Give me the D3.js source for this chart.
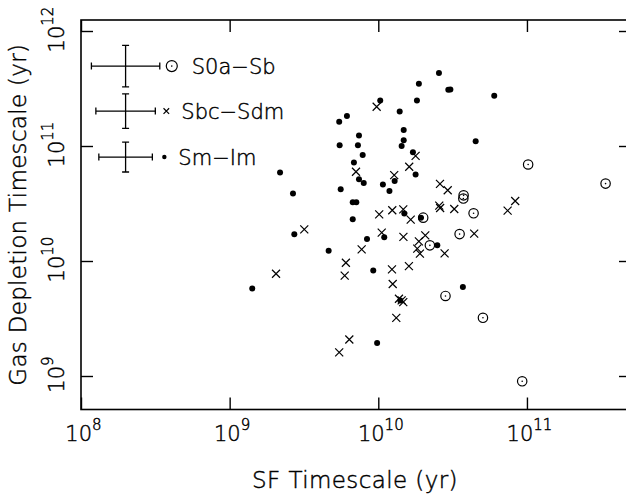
<!DOCTYPE html>
<html>
<head>
<meta charset="utf-8">
<script src="https://cdn.jsdelivr.net/npm/d3@7"></script>
<style>
  html, body { margin: 0; padding: 0; background: #fff; }
  svg { display: block; }
  text { font-family: "DejaVu Sans", "Liberation Sans", sans-serif; font-weight: 200; fill: #000;
         stroke: #000; stroke-width: 0.45px; }
</style>
</head>
<body>
<svg id="chart" width="626" height="497"></svg>
<script>
// ---- Data (log10 of years) ----
// S0a-Sb (circled dot)
const earlySF  = [11.008, 11.529, 10.574, 10.572, 10.641, 10.302, 10.547, 10.347, 10.452, 10.704, 10.968];
const earlyGas = [10.839, 10.673, 10.571, 10.543, 10.415, 10.377, 10.234, 10.136, 9.696, 9.506, 8.954];

// Sbc-Sdm (cross)
const midSF  = [9.989, 10.251, 10.208, 9.850, 10.107, 10.415, 10.467, 10.921, 10.870, 10.410,
                10.416, 10.511, 10.094, 10.168, 10.006, 10.218, 9.502, 10.023, 10.169, 10.316,
                10.273, 10.262, 10.280, 10.446, 10.645, 9.888, 9.782, 9.774, 10.092, 10.206,
                9.312, 10.097, 10.139, 10.157, 10.168, 10.121, 9.805, 9.737];
const midGas = [11.341, 10.914, 10.820, 10.776, 10.747, 10.671, 10.615, 10.522, 10.438, 10.482,
                10.461, 10.452, 10.441, 10.449, 10.406, 10.360, 10.275, 10.247, 10.210, 10.223,
                10.171, 10.107, 10.064, 10.066, 10.238, 10.101, 9.985, 9.873, 9.927, 9.956,
                9.889, 9.800, 9.672, 9.657, 9.642, 9.506, 9.317, 9.206];

// Sm-Im (filled dot)
const lateSF  = [10.408, 10.273, 10.471, 10.485, 10.780, 10.013, 10.260, 9.789, 9.737, 10.144,
                 10.171, 9.870, 10.171, 10.157, 9.740, 9.863, 10.655, 9.895, 10.233, 9.836,
                 10.251, 9.870, 9.902, 10.110, 10.031, 10.075, 9.747, 9.339, 9.426, 9.828,
                 9.852, 9.828, 10.175, 10.287, 9.435, 10.040, 9.924, 10.397, 9.666, 9.966,
                 9.152, 10.569, 10.148, 9.992];
const lateGas = [11.634, 11.541, 11.490, 11.492, 11.436, 11.396, 11.396, 11.260, 11.210, 11.301,
                 11.140, 11.091, 11.051, 11.001, 11.007, 11.007, 11.042, 10.922, 10.946, 10.856,
                 10.752, 10.711, 10.679, 10.696, 10.665, 10.608, 10.624, 10.769, 10.586, 10.510,
                 10.510, 10.362, 10.412, 10.377, 10.232, 10.206, 10.191, 10.136, 10.090, 9.918,
                 9.761, 9.773, 9.657, 9.288];

// Legend: classes and typical error bars (dex)
const legendLabels = ["S0a\u2212Sb", "Sbc\u2212Sdm", "Sm\u2212Im"];
const legendSymbols = ["circle", "cross", "dot"];
const errSF  = [0.23, 0.20, 0.18];
const errGas = [0.18, 0.15, 0.13];

// Ticks
const xTickExp = [8, 9, 10, 11];
const yTickExp = [9, 10, 11, 12];
const xTitle = "SF Timescale (yr)";
const yTitle = "Gas Depletion Timescale (yr)";

// ---- Chart ----
const svg = d3.select("#chart");
const L = 81, R = 631, T = 20, B = 409.5;
const pw = v => Math.pow(10, v);

const x = d3.scaleLog().domain([pw(8), pw(11.7)]).range([L, R]);
const y = d3.scaleLog().domain([pw(8.7087), pw(12.0957)]).range([B, T]);

const g = svg.append("g");

// frame
g.append("rect")
  .attr("x", L).attr("y", T).attr("width", R - L).attr("height", B - T)
  .attr("fill", "none").attr("stroke", "#000").attr("stroke-width", 1.6);

const tickLen = 12;
function styleAxis(sel) {
  sel.select(".domain").remove();
  sel.selectAll(".tick line").attr("stroke", "#000").attr("stroke-width", 1.4);
}

// bottom axis
const xAxis = g.append("g").attr("transform", `translate(0,${B})`)
  .call(d3.axisBottom(x).tickValues(xTickExp.map(pw)).tickSize(-tickLen).tickFormat(""));
styleAxis(xAxis);
xAxis.selectAll(".tick").each(function(d) {
  const e = Math.round(Math.log10(d));
  const t = d3.select(this).select("text");
  t.text(null).attr("y", 31).attr("dy", null).attr("x", 2)
   .attr("text-anchor", "middle").attr("font-size", 21).attr("fill", "#000");
  t.append("tspan").text("10");
  t.append("tspan").attr("font-size", 15).attr("dy", -11).text(e);
});
// top axis
const xTop = g.append("g").attr("transform", `translate(0,${T})`)
  .call(d3.axisTop(x).tickValues(xTickExp.map(pw)).tickSize(-tickLen).tickFormat(""));
styleAxis(xTop);
xTop.selectAll("text").remove();

// left axis
const yAxis = g.append("g").attr("transform", `translate(${L},0)`)
  .call(d3.axisLeft(y).tickValues(yTickExp.map(pw)).tickSize(-tickLen).tickFormat(""));
styleAxis(yAxis);
yAxis.selectAll(".tick").each(function(d) {
  const e = Math.round(Math.log10(d));
  const t = d3.select(this).select("text");
  t.text(null).attr("x", 2).attr("y", -17).attr("dy", null)
   .attr("transform", "rotate(-90)")
   .attr("text-anchor", "middle").attr("font-size", 21).attr("fill", "#000");
  t.append("tspan").text("10");
  t.append("tspan").attr("font-size", 15).attr("dy", -11).text(e);
});
// right axis
const yRight = g.append("g").attr("transform", `translate(${R},0)`)
  .call(d3.axisRight(y).tickValues(yTickExp.map(pw)).tickSize(-tickLen).tickFormat(""));
styleAxis(yRight);
yRight.selectAll("text").remove();

// titles
svg.append("text")
  .attr("x", (L + R) / 2 - 1).attr("y", 488)
  .attr("text-anchor", "middle").attr("font-size", 23)
  .attr("letter-spacing", 0.4)
  .text(xTitle);
svg.append("text")
  .attr("transform", `translate(26,${(T + B) / 2}) rotate(-90)`)
  .attr("text-anchor", "middle").attr("font-size", 23)
  .attr("letter-spacing", 0.3)
  .text(yTitle);

// markers
const plot = g.append("g");
function drawDot(sel, cx, cy, r) {
  sel.append("circle").attr("cx", cx).attr("cy", cy).attr("r", r).attr("fill", "#000");
}
function drawCross(sel, cx, cy, h) {
  sel.append("path")
    .attr("d", `M${cx - h},${cy - h}L${cx + h},${cy + h}M${cx - h},${cy + h}L${cx + h},${cy - h}`)
    .attr("stroke", "#000").attr("stroke-width", 1.2).attr("fill", "none");
}
function drawCircled(sel, cx, cy, r) {
  sel.append("circle").attr("cx", cx).attr("cy", cy).attr("r", r)
    .attr("fill", "none").attr("stroke", "#000").attr("stroke-width", 1.2);
  sel.append("circle").attr("cx", cx).attr("cy", cy).attr("r", 0.8).attr("fill", "#000");
}

lateSF.forEach((v, i) => drawDot(plot, x(pw(v)), y(pw(lateGas[i])), 3));
midSF.forEach((v, i) => drawCross(plot, x(pw(v)), y(pw(midGas[i])), 4));
earlySF.forEach((v, i) => drawCircled(plot, x(pw(v)), y(pw(earlyGas[i])), 4.7));

// legend with representative error bars
const legCenterX = 8.30;
const legCenterY = [11.695, 11.304, 10.904];
const leg = g.append("g");
const cap = 3.5;
legendLabels.forEach((lab, i) => {
  const cx = x(pw(legCenterX)), cy = y(pw(legCenterY[i]));
  const x0 = x(pw(legCenterX - errSF[i])), x1 = x(pw(legCenterX + errSF[i]));
  const y0 = y(pw(legCenterY[i] - errGas[i])), y1 = y(pw(legCenterY[i] + errGas[i]));
  const path = `M${x0},${cy}H${x1}M${x0},${cy - cap}V${cy + cap}M${x1},${cy - cap}V${cy + cap}` +
               `M${cx},${y0}V${y1}M${cx - cap},${y0}H${cx + cap}M${cx - cap},${y1}H${cx + cap}`;
  leg.append("path").attr("d", path).attr("stroke", "#000").attr("stroke-width", 1.3).attr("fill", "none");
  const mx = x1 + 12;
  if (legendSymbols[i] === "circle") drawCircled(leg, mx, cy, 5.5);
  else if (legendSymbols[i] === "cross") drawCross(leg, mx - 1, cy, 2.8);
  else drawDot(leg, mx, cy, 2.2);
  leg.append("text").attr("x", mx + (i === 0 ? 20 : 14)).attr("y", cy + 7.5)
    .attr("font-size", 21).text(lab);
});
</script>
</body>
</html>
